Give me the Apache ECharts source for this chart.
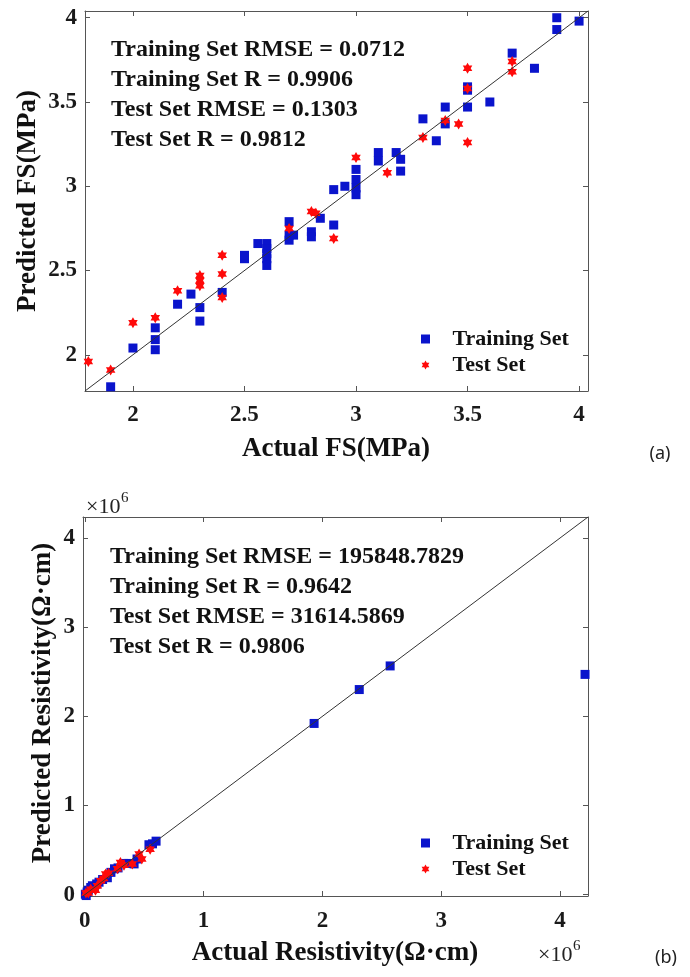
<!DOCTYPE html>
<html>
<head>
<meta charset="utf-8">
<script src="https://cdn.jsdelivr.net/npm/echarts@6/dist/echarts.min.js"></script>
<style>
html,body{margin:0;padding:0;background:#fff;}
#chart{width:690px;height:977px;}
</style>
</head>
<body>
<div id="chart"></div>
<script>
// ---------- (a) Flexural strength, MPa ----------
const fsTrainActual = [1.90,2.00,2.10,2.10,2.10,2.20,2.26,2.30,2.30,2.40,2.50,2.50,2.56,2.60,2.60,2.60,2.60,2.60,2.70,2.70,2.70,2.72,2.80,2.80,2.84,2.90,2.90,2.95,3.00,3.00,3.00,3.00,3.10,3.10,3.18,3.20,3.20,3.30,3.36,3.40,3.40,3.50,3.50,3.50,3.60,3.70,3.80,3.90,3.90,4.00];
const fsTrainPred   = [1.81,2.04,2.16,2.09,2.03,2.30,2.36,2.28,2.20,2.37,2.57,2.59,2.66,2.66,2.63,2.60,2.57,2.53,2.79,2.71,2.68,2.71,2.73,2.70,2.81,2.77,2.98,3.00,3.10,3.04,2.99,2.95,3.20,3.15,3.20,3.16,3.09,3.40,3.27,3.47,3.37,3.59,3.57,3.47,3.50,3.79,3.70,4.00,3.93,3.98];
const fsTestActual  = [1.80,1.90,2.00,2.10,2.20,2.30,2.30,2.30,2.40,2.40,2.40,2.70,2.80,2.82,2.90,3.00,3.14,3.30,3.40,3.46,3.50,3.50,3.50,3.70,3.70];
const fsTestPred    = [1.96,1.91,2.19,2.22,2.38,2.47,2.44,2.41,2.59,2.48,2.34,2.75,2.85,2.84,2.69,3.17,3.08,3.29,3.39,3.37,3.70,3.58,3.26,3.74,3.68];
const fsRange = [1.785, 4.04];
const fsTicks = [2, 2.5, 3, 3.5, 4];
const fsStats = ['Training Set RMSE = 0.0712','Training Set R = 0.9906','Test Set RMSE = 0.1303','Test Set R = 0.9812'];

// ---------- (b) Resistivity, x10^6 Ohm.cm ----------
const resTrainActual = [0.005,0.012,0.02,0.03,0.05,0.064,0.08,0.10,0.12,0.15,0.19,0.22,0.25,0.28,0.33,0.37,0.415,0.44,0.54,0.57,0.60,1.93,2.31,2.57,4.21];
const resTrainPred   = [0.005,-0.01,0.03,0.05,0.08,0.10,0.09,0.12,0.14,0.17,0.19,0.25,0.29,0.30,0.35,0.35,0.345,0.40,0.56,0.57,0.60,1.92,2.30,2.565,2.47];
const resTestActual  = [0.01,0.03,0.05,0.09,0.106,0.134,0.16,0.176,0.20,0.275,0.30,0.33,0.40,0.457,0.48,0.55];
const resTestPred    = [0.02,0.02,0.06,0.05,0.10,0.157,0.18,0.232,0.24,0.29,0.36,0.33,0.345,0.457,0.40,0.51];
const resRange = [-0.015, 4.235];
const resTicks = [0, 1, 2, 3, 4];
const resStats = ['Training Set RMSE = 195848.7829','Training Set R = 0.9642','Test Set RMSE = 31614.5869','Test Set R = 0.9806'];

const seriesNames = ['Training Set', 'Test Set'];

// ---------- styling ----------
const SERIF = '"Liberation Serif","Times New Roman",serif';
const AXC = '#555';
const BLUE = '#0a14cc';
const RED = '#ff0a0a';
const SQUARE = 'path://M0,0H10V10H0Z';
const HEXAGRAM = 'path://M0,-10L2.887,-5L8.66,-5L5.774,0L8.66,5L2.887,5L0,10L-2.887,5L-8.66,5L-5.774,0L-8.66,-5L-2.887,-5Z';

const zip = (a, b) => a.map((v, i) => [v, b[i]]);

function axisPair(dim, grid, range, ticks, margin) {
  const main = {
    type: 'value', gridIndex: grid, min: range[0], max: range[1],
    position: dim === 'x' ? 'bottom' : 'left',
    axisLine: { show: true, onZero: false, lineStyle: { color: AXC, width: 1 } },
    axisTick: { show: true, inside: true, length: 5, lineStyle: { color: AXC }, customValues: ticks },
    axisLabel: { show: true, customValues: ticks, margin: margin, color: '#1a1a1a',
      fontFamily: SERIF, fontWeight: 'bold', fontSize: 23, formatter: v => String(v) },
    splitLine: { show: false }
  };
  const mirror = {
    type: 'value', gridIndex: grid, min: range[0], max: range[1],
    position: dim === 'x' ? 'top' : 'right',
    axisLine: { show: true, onZero: false, lineStyle: { color: AXC, width: 1 } },
    axisTick: { show: true, inside: true, length: 5, lineStyle: { color: AXC }, customValues: ticks },
    axisLabel: { show: false },
    splitLine: { show: false }
  };
  return [main, mirror];
}

const [xa0, xa1] = axisPair('x', 0, fsRange, fsTicks, 13);
const [ya0, ya1] = axisPair('y', 0, fsRange, fsTicks, 8);
const [xb0, xb1] = axisPair('x', 1, resRange, resTicks, 14);
const [yb0, yb1] = axisPair('y', 1, resRange, resTicks, 8);

function scatter(name, xi, yi, data, sym, size, color) {
  return { name, type: 'scatter', xAxisIndex: xi, yAxisIndex: yi, data, symbol: sym,
    symbolSize: size, symbolKeepAspect: true, itemStyle: { color, opacity: 1 }, z: 2, clip: false };
}
function diag(xi, yi, range) {
  return { type: 'line', xAxisIndex: xi, yAxisIndex: yi, data: [[range[0], range[0]], [range[1], range[1]]],
    symbol: 'none', lineStyle: { color: '#333', width: 1 }, z: 4, silent: true };
}

function textEl(txt, x, y, opts) {
  return Object.assign({ type: 'text', x: x, y: y, silent: true,
    style: Object.assign({ text: txt, fill: '#111', font: 'bold 24px ' + SERIF,
      textAlign: 'left', textVerticalAlign: 'middle', align: 'left', verticalAlign: 'middle' }, opts && opts.style || {}) },
    opts && opts.el || {});
}

const graphics = [];
fsStats.forEach((t, i) => graphics.push(textEl(t, 111, 50 + 30 * i)));
resStats.forEach((t, i) => graphics.push(textEl(t, 110, 557 + 30 * i)));
const titleStyle = { font: 'bold 27px ' + SERIF, textAlign: 'center', align: 'center' };
graphics.push(textEl('Actual FS(MPa)', 336, 449, { style: titleStyle }));
graphics.push(textEl('Predicted FS(MPa)', 28, 201, { style: titleStyle, el: { rotation: Math.PI / 2 } }));
graphics.push(textEl('Actual Resistivity(\u03A9\u00B7cm)', 335, 953, { style: titleStyle }));
graphics.push(textEl('Predicted Resistivity(\u03A9\u00B7cm)', 43, 703, { style: titleStyle, el: { rotation: Math.PI / 2 } }));
const expStyle = { font: '22px ' + SERIF, fill: '#222' };
const supStyle = { font: '15px ' + SERIF, fill: '#222' };
graphics.push(textEl('\u00D710', 86, 507, { style: expStyle }));
graphics.push(textEl('6', 121, 498, { style: supStyle }));
graphics.push(textEl('\u00D710', 538, 955, { style: expStyle }));
graphics.push(textEl('6', 573, 946, { style: supStyle }));
const tagStyle = { font: '18px "Noto Sans","Open Sans",sans-serif', fill: '#222', textAlign: 'center', align: 'center' };
graphics.push(textEl('(a)', 660, 454, { style: tagStyle }));
graphics.push(textEl('(b)', 666, 958, { style: tagStyle }));

function legendAt(top) {
  return { show: true, orient: 'vertical', left: 421, top: top, padding: 0, itemGap: 0,
    itemWidth: 44, itemHeight: 9, data: seriesNames, selectedMode: false,
    textStyle: { fontFamily: SERIF, fontWeight: 'bold', fontSize: 22, color: '#111', lineHeight: 26 } };
}

const option = {
  animation: false,
  backgroundColor: '#fff',
  grid: [
    { left: 85, top: 11, width: 503, height: 380, containLabel: false },
    { left: 83, top: 517, width: 505, height: 379, containLabel: false }
  ],
  xAxis: [xa0, xa1, xb0, xb1],
  yAxis: [ya0, ya1, yb0, yb1],
  legend: [legendAt(326), legendAt(830)],
  series: [
    scatter(seriesNames[0], 0, 0, zip(fsTrainActual, fsTrainPred), SQUARE, 9, BLUE),
    scatter(seriesNames[1], 0, 0, zip(fsTestActual, fsTestPred), HEXAGRAM, 11, RED),
    diag(0, 0, fsRange),
    scatter(seriesNames[0], 2, 2, zip(resTrainActual, resTrainPred), SQUARE, 9, BLUE),
    scatter(seriesNames[1], 2, 2, zip(resTestActual, resTestPred), HEXAGRAM, 11, RED),
    diag(2, 2, resRange)
  ],
  graphic: { elements: graphics }
};

const chart = echarts.init(document.getElementById('chart'), null, { renderer: 'canvas' });
chart.setOption(option);
</script>
</body>
</html>
